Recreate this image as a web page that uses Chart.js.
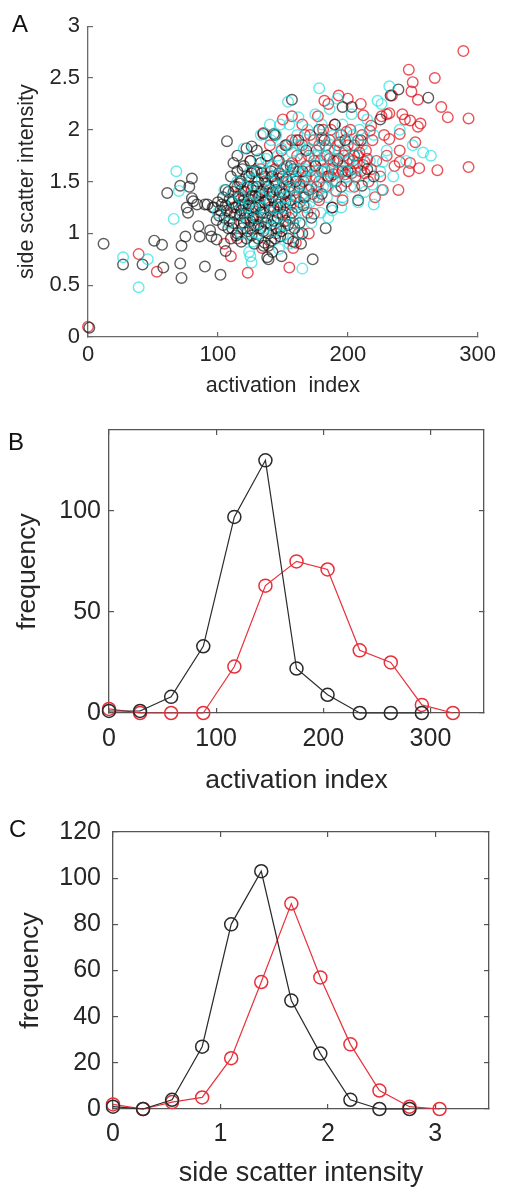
<!DOCTYPE html>
<html>
<head>
<meta charset="utf-8">
<script src="https://cdn.jsdelivr.net/npm/chart.js@4.4.1/dist/chart.umd.min.js"></script>
<style>
  body { margin: 0; width: 506px; height: 1188px; overflow: hidden; background: #fff; font-family: "Liberation Sans", Arial, sans-serif; }
  .panel { position: absolute; left: 0; width: 506px; }
  .letter { position: absolute; font-size: 24px; line-height: 24px; color: #111; }
</style>
</head>
<body>
<div class="panel" style="top:0;height:400px"><canvas id="chartA" width="506" height="400"></canvas></div>
<div class="panel" style="top:400px;height:400px"><canvas id="chartB" width="506" height="400"></canvas></div>
<div class="panel" style="top:800px;height:400px"><canvas id="chartC" width="506" height="400"></canvas></div>
<div class="letter" style="left:12px;top:12px">A</div>
<div class="letter" style="left:8px;top:430px">B</div>
<div class="letter" style="left:9px;top:817px">C</div>
<script>
// panel A: activation index vs side scatter, one array per cell group
const blackPts = [
  [1,0.09],[12,0.9],[27,0.7],[42,0.7],[51,0.93],[57,0.89],[58,0.67],[61,1.39],[71,0.71],[72,0.57],
  [72,0.88],[75,0.97],[71,1.46],[78,1.45],[80,1.53],[76,1.25],[77,1.2],[80,1.34],[85,1.07],[86,0.97],
  [90,0.68],[102,0.6],[107,1.89],[97,1.25],[95,0.97],[106,0.83],[139,0.75],[149,0.78],[173,0.75],[157,2.29],
  [208,1.32],[211,1.46],[196,2.22],[262,2.31],[239,2.39],[233,2.33],[203,2.22],[138,0.77],[136,0.91],[142,0.82],
  [92,1.28],[96,1.25],[99,1.13],[94,1.03],[99,0.94],[84,1.28],[90,1.28],[81,1.31],
  [100,1.3],[102,1.22],[104,1.35],[105,1.15],[106,1.27],[108,1.05],[108,1.4],[110,1.2],[110,0.95],[111,1.3],
  [112,1.1],[113,1.45],[114,1.25],[115,1.6],[115,1.0],[116,1.35],[117,1.18],[118,1.5],[118,0.92],[119,1.28],
  [120,1.65],[120,1.1],[121,1.4],[122,1.82],[122,1.2],[123,1.02],[124,1.55],[124,1.33],[125,1.7],[125,1.12],
  [126,0.98],[127,1.45],[127,1.25],[128,1.6],[128,1.08],[129,1.36],[130,1.8],[130,1.15],[131,0.95],[131,1.5],
  [132,1.27],[133,1.05],[133,1.68],[134,1.4],[135,1.2],[135,0.88],[136,1.55],[137,1.1],[137,1.32],[138,1.75],
  [139,1.0],[139,1.45],[140,1.22],[141,1.6],[141,0.93],[142,1.35],[143,1.12],[144,1.95],[144,1.5],[145,1.05],
  [146,1.28],[147,1.7],[148,1.4],[148,0.97],[150,1.18],[150,1.55],[152,1.85],[152,1.3],[154,1.08],[155,1.45],
  [156,1.65],[157,1.2],[158,0.92],[160,1.5],[160,1.35],[162,1.9],[163,1.1],[165,1.6],[166,1.27],[168,1.8],
  [170,1.42],[172,1.15],[175,1.65],[178,2.0],[180,1.38],[182,1.9],[185,1.55],[188,1.25],[190,2.05],[192,1.7],
  [195,1.45],[198,1.9],[200,1.6],[205,1.75],[210,1.9],[215,1.62],[220,1.55],[225,2.1],[183,1.05],[165,1.0],
  [126,1.84],[112,1.68],[135,1.96],[143,1.96],
  [101,1.17],[103,1.28],[104,1.08],[106,1.42],[107,1.22],[109,1.33],[109,1.12],[111,1.05],[112,1.4],[113,1.18],
  [114,0.98],[116,1.27],[117,1.48],[118,1.22],[119,1.05],[120,1.32],[121,1.15],[122,0.95],[123,1.45],[124,1.27],
  [125,1.05],[126,1.36],[126,1.58],[127,1.15],[128,0.9],[129,1.25],[130,1.45],[131,1.08],[132,1.38],[133,1.2],
  [134,1.58],[135,1.02],[136,1.3],[137,1.48],[138,1.15],[139,0.88],[140,1.38],[141,1.08],[142,1.55],[143,1.25],
  [144,0.95],[145,1.42],[146,1.15],[147,1.58],[148,1.25],[149,1.02],[151,1.38],[152,1.12],[153,1.52],[154,0.95],
  [156,1.32],[158,1.62],[159,1.05],[161,1.25],[163,1.45],[164,0.9],[167,1.35],[110,1.55],[115,1.75],[119,1.62]
];
const cyanPts = [
  [27,0.77],[39,0.48],[46,0.75],[68,1.6],[66,1.14],[70,1.41],[178,2.4],[154,2.27],[232,2.42],[226,2.25],
  [264,1.75],[258,1.78],[165,0.66],[125,0.78],[126,0.72],[219,1.47],[220,1.28],[227,1.69],[188,1.22],[226,1.42],
  [100,1.2],[105,1.42],[108,1.1],[112,1.3],[115,1.5],[118,1.0],[120,1.82],[122,1.25],[125,1.6],[127,0.92],
  [128,1.38],[130,1.15],[132,1.72],[134,1.45],[136,1.05],[138,1.6],[140,1.3],[141,1.9],[143,1.5],[145,1.15],
  [146,1.75],[148,2.05],[149,1.4],[150,0.98],[151,1.62],[152,1.25],[154,1.85],[155,2.05],[156,1.5],[158,1.1],
  [159,1.7],[160,1.35],[161,1.95],[162,2.12],[164,1.58],[165,1.2],[166,1.8],[168,1.45],[169,2.0],[170,1.65],
  [171,1.3],[173,1.9],[174,1.55],[175,2.15],[176,1.4],[178,1.75],[179,1.2],[180,2.05],[181,1.6],[183,1.85],
  [184,1.35],[186,2.2],[187,1.65],[189,1.95],[190,1.5],[192,2.3],[193,1.8],[195,1.25],[196,2.05],[198,1.6],
  [200,1.9],[202,1.45],[203,2.15],[205,1.75],[207,1.55],[209,2.0],[211,1.85],[213,1.4],[215,2.1],[217,1.7],
  [220,1.95],[223,2.28],[225,1.6],[230,1.8],[235,1.55],[240,2.0],[245,1.7],[250,1.85],[140,2.05],[133,1.95],
  [145,1.95],[117,1.35],[123,1.12],[163,1.0],[172,1.1],[185,1.15],[196,1.35],[208,1.3],[155,0.9],[147,0.85],
  [131,1.0],[158,1.45],[185,1.45],[124,0.82],
  [119,1.18],[121,1.45],[124,1.3],[126,1.52],[129,1.22],[131,1.6],[133,1.35],[135,1.25],[137,1.72],[139,1.42],
  [141,1.15],[142,1.65],[144,1.38],[146,1.55],[147,1.25],[149,1.82],[150,1.45],[152,1.65],[153,1.35],[155,1.58],
  [157,1.78],[158,1.28],[160,1.62],[162,1.45],[163,1.85],[165,1.38],[167,1.62],[168,1.25],[170,1.82],[172,1.52],
  [174,1.35],[175,1.75],[177,1.6],[179,1.92],[181,1.45],[182,1.75],[184,1.6],[186,1.82],[188,1.5],[190,1.72],
  [192,1.6],[194,1.95],[197,1.78],[199,1.55],[201,1.7],[204,1.95],[206,1.62],[143,1.02],[151,1.08],[160,1.15]
];
const redPts = [
  [0,0.1],[39,0.8],[53,0.63],[123,0.62],[110,0.78],[155,0.67],[160,0.91],[289,2.76],[247,2.58],[267,2.5],
  [293,2.11],[293,1.64],[269,1.61],[277,2.12],[272,2.22],[256,2.06],[254,2.03],[252,1.88],[248,2.09],[250,2.46],
  [254,2.29],[249,2.37],[255,1.63],[248,1.68],[247,1.6],[240,1.8],[240,1.69],[239,1.42],[240,1.96],[232,1.91],
  [234,2.33],[232,2.16],[226,2.13],[227,1.42],[221,1.35],[193,2.33],[182,2.28],[210,2.25],[212,2.14],[217,1.99],
  [218,2.04],[212,1.66],[213,1.69],[198,1.57],[202,1.61],[196,1.32],[191,1.41],[189,1.57],[177,2.13],[157,2.13],
  [135,1.97],[174,1.19],[178,1.32],[134,0.86],[158,0.86],[105,0.9],[115,0.95],
  [112,1.25],[115,1.45],[118,1.1],[120,1.35],[122,1.55],[124,1.2],[126,1.42],[128,1.05],[130,1.6],[132,1.3],
  [134,1.15],[136,1.5],[138,1.75],[140,1.25],[142,1.4],[144,1.62],[145,1.0],[147,1.35],[149,1.8],[150,1.5],
  [152,1.2],[153,1.65],[155,1.4],[157,1.9],[158,1.1],[160,1.55],[161,1.75],[163,1.3],[165,1.85],[166,1.5],
  [168,1.65],[169,1.2],[171,1.95],[172,1.45],[174,1.7],[175,1.55],[177,1.35],[178,1.85],[180,1.6],[181,2.0],
  [183,1.45],[184,1.75],[186,1.9],[187,1.55],[189,1.7],[190,2.05],[192,1.85],[193,1.6],[195,1.95],[197,1.75],
  [199,1.5],[200,1.85],[202,2.0],[204,1.7],[206,1.55],[208,1.9],[210,1.6],[214,1.8],[216,1.5],[219,1.9],
  [222,1.7],[225,1.55],[228,1.95],[230,1.75],[236,1.65],[242,2.15],[244,2.1],[230,2.15],[150,2.1],[165,2.05],
  [185,2.25],[200,2.3],[125,1.7],[140,1.85],[162,1.0],[170,1.0],[188,1.25],[205,1.45],[146,1.2],[176,1.45],
  [196,1.65],[208,1.75],
  [139,1.32],[141,1.55],[143,1.22],[145,1.48],[146,1.7],[148,1.3],[150,1.62],[151,1.38],[153,1.85],[154,1.5],
  [156,1.28],[157,1.68],[159,1.42],[160,1.9],[162,1.6],[163,1.48],[164,1.72],[166,1.35],[167,1.95],[168,1.55],
  [170,1.75],[171,1.6],[173,1.38],[174,1.9],[175,1.65],[176,1.8],[178,1.5],[179,1.7],[180,1.92],[182,1.62],
  [183,1.85],[184,1.55],[186,1.72],[187,2.0],[188,1.62],[190,1.8],[191,1.5],[193,1.72],[194,1.88],[196,1.6],
  [198,1.8],[199,1.98],[201,1.72],[203,1.58],[205,1.85],[207,1.68],[209,1.78],[211,1.95],[213,1.58],[215,1.72],
  [218,1.62],[135,1.42],[131,1.35],[127,1.15],[121,1.28],[118,1.42],[133,1.62],[155,1.15],[148,1.05]
];

// panel B: histogram of activation index
const actBins = [0, 29, 58, 88, 117, 146, 175, 204, 234, 263, 292, 321];
const actFreqBlack = [1, 1, 8, 33, 97, 125, 22, 9, 0, 0, 0];
const actFreqRed = [2, 0, 0, 0, 23, 63, 75, 71, 31, 25, 4, 0];

// panel C: histogram of side scatter intensity
const sscBins = [0, 0.28, 0.55, 0.83, 1.1, 1.38, 1.66, 1.93, 2.21, 2.48, 2.76, 3.04];
const sscFreqBlack = [1, 0, 4, 27, 80, 103, 47, 24, 4, 0, 0];
const sscFreqRed = [2, 0, 3, 5, 22, 55, 89, 57, 28, 8, 1, 0];

Chart.defaults.font.family = '"Liberation Sans", Arial, sans-serif';
Chart.defaults.animation = false;

const ink = '#262626';

function axis(o) {
  return {
    type: 'linear', position: o.pos, min: o.min, max: o.max,
    ticks: { display: o.labels !== false, stepSize: o.step, includeBounds: false, padding: o.pad || 0, color: ink,
      font: { size: o.fs }, callback: v => String(Math.round(v * 100) / 100) },
    grid: { drawOnChartArea: false, tickLength: -5, color: o.line, lineWidth: 1.2 },
    border: { color: o.line, width: 1.3 },
    title: o.title ? { display: true, text: o.title, color: ink, font: { size: o.tfs }, padding: o.tpad } : { display: false },
    afterFit: s => { if (s.isHorizontal()) s.height = o.size; else s.width = o.size; }
  };
}

function pts(arr) { return arr.map(p => ({ x: p[0], y: p[1] })); }
function series(xs, ys) { return ys.map((y, i) => ({ x: xs[i], y: y })); }

function scatterSet(arr, color) {
  return { data: pts(arr), borderColor: color, backgroundColor: 'transparent', pointRadius: 5.3, pointBorderWidth: 1.4, clip: false };
}
function lineSet(xs, ys, color) {
  return { data: series(xs, ys), showLine: true, borderColor: color, borderWidth: 1.2, tension: 0,
    pointRadius: 6.5, pointBorderWidth: 1.5, pointBorderColor: color, pointBackgroundColor: 'transparent', clip: false };
}

const plugins = { legend: { display: false }, tooltip: { enabled: false } };

new Chart(document.getElementById('chartA'), {
  type: 'scatter',
  data: { datasets: [
    scatterSet(cyanPts, 'rgba(0,220,225,0.6)'),
    scatterSet(blackPts, 'rgba(25,25,25,0.7)'),
    scatterSet(redPts, 'rgba(225,15,25,0.72)')
  ] },
  options: {
    responsive: false, plugins,
    layout: { padding: { top: 17, right: 22, left: 0, bottom: 0 } },
    scales: {
      x: axis({ pos: 'bottom', min: 0, max: 300, step: 100, pad: 10, fs: 22, line: '#6a6a6a', size: 63,
        title: 'activation  index', tfs: 21.5, tpad: { top: 0, bottom: 1 } }),
      y: axis({ pos: 'left', min: 0, max: 3, step: 0.5, pad: 13, fs: 22, line: '#6a6a6a', size: 88,
        title: 'side scatter intensity', tfs: 21.5, tpad: { top: 14, bottom: 0 } })
    }
  }
});

new Chart(document.getElementById('chartB'), {
  type: 'scatter',
  data: { datasets: [
    lineSet(actBins, actFreqBlack, '#2a2a2a'),
    lineSet(actBins, actFreqRed, '#e8303a')
  ] },
  options: {
    responsive: false, plugins,
    layout: { padding: { top: 30, right: 22, left: 0, bottom: 0 } },
    scales: {
      x: axis({ pos: 'bottom', min: 0, max: 350, step: 100, pad: 16, fs: 25, line: '#555', size: 87,
        title: 'activation index', tfs: 26.5, tpad: { top: 0, bottom: 3 } }),
      y: axis({ pos: 'left', min: 0, max: 140, step: 50, pad: 13, fs: 25, line: '#555', size: 109,
        title: 'frequency', tfs: 26.5, tpad: { top: 12, bottom: 0 } }),
      x2: axis({ pos: 'top', min: 0, max: 350, step: 100, labels: false, line: '#555', size: 0 }),
      y2: axis({ pos: 'right', min: 0, max: 140, step: 50, labels: false, line: '#555', size: 0 })
    }
  }
});

new Chart(document.getElementById('chartC'), {
  type: 'scatter',
  data: { datasets: [
    lineSet(sscBins, sscFreqBlack, '#2a2a2a'),
    lineSet(sscBins, sscFreqRed, '#e8303a')
  ] },
  options: {
    responsive: false, plugins,
    layout: { padding: { top: 24, right: 17, left: 0, bottom: 0 } },
    scales: {
      x: axis({ pos: 'bottom', min: 0, max: 3.5, step: 1, pad: 15, fs: 25, line: '#555', size: 91,
        title: 'side scatter intensity', tfs: 27, tpad: { top: 0, bottom: 10 } }),
      y: axis({ pos: 'left', min: 0, max: 120, step: 20, pad: 17, fs: 25, line: '#555', size: 113,
        title: 'frequency', tfs: 26.5, tpad: { top: 15, bottom: 0 } }),
      x2: axis({ pos: 'top', min: 0, max: 3.5, step: 1, labels: false, line: '#555', size: 0 }),
      y2: axis({ pos: 'right', min: 0, max: 120, step: 20, labels: false, line: '#555', size: 0 })
    }
  }
});
</script>
</body>
</html>
